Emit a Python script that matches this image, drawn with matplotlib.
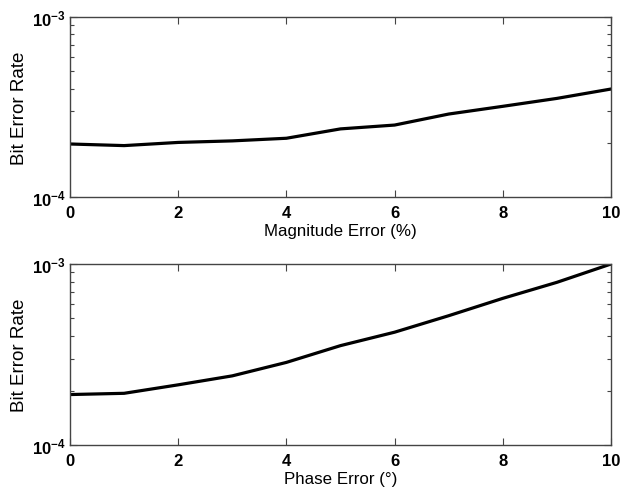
import numpy as np
import matplotlib.pyplot as plt
from matplotlib.ticker import LogLocator, NullFormatter

plt.rcParams['font.family'] = ['Liberation Sans', 'DejaVu Sans']
plt.rcParams['mathtext.fontset'] = 'custom'
plt.rcParams['mathtext.rm'] = 'Liberation Sans'

err = np.arange(0, 11)
ber_mag = [1.97e-4, 1.93e-4, 2.01e-4, 2.05e-4, 2.12e-4, 2.39e-4,
           2.51e-4, 2.89e-4, 3.19e-4, 3.53e-4, 3.98e-4]
ber_phase = [1.90e-4, 1.93e-4, 2.15e-4, 2.41e-4, 2.86e-4, 3.54e-4,
             4.20e-4, 5.18e-4, 6.46e-4, 7.92e-4, 1.0e-3]
xlabels = ["Magnitude Error (%)", "Phase Error (\u00b0)"]

fig = plt.figure(figsize=(6.29, 4.89), dpi=100)
ax1 = fig.add_axes([70/629, 1 - 198/489, 541/629, 180/489])
ax2 = fig.add_axes([70/629, 1 - 446/489, 541/629, 181/489])

for ax, ber, xl in zip([ax1, ax2], [ber_mag, ber_phase], xlabels):
    ax.semilogy(err, ber, color='black', lw=2.3)
    ax.set_xlim(0, 10)
    ax.set_ylim(1e-4, 1e-3)
    ax.set_xticks([0, 2, 4, 6, 8, 10])
    ax.yaxis.set_major_locator(LogLocator(base=10, numticks=5))
    ax.yaxis.set_minor_locator(LogLocator(base=10, subs=np.arange(2, 10), numticks=20))
    ax.yaxis.set_minor_formatter(NullFormatter())
    ax.tick_params(which='both', direction='in', top=True, right=True,
                   labelsize=12, width=0.8, color='#444444')
    ax.tick_params(which='major', length=5)
    ax.tick_params(which='minor', length=3)
    ax.tick_params(axis='x', pad=6)
    ax.tick_params(axis='y', pad=3)
    for lab in ax.get_xticklabels() + ax.get_yticklabels():
        lab.set_fontweight('bold')
    for s in ax.spines.values():
        s.set_color('#444444')
        s.set_linewidth(1.0)
    ax.set_ylabel("Bit Error Rate", fontsize=13.5, labelpad=3)
    ax.set_xlabel(xl, fontsize=12.2, labelpad=2)

fig.savefig("out.png", dpi=100)
